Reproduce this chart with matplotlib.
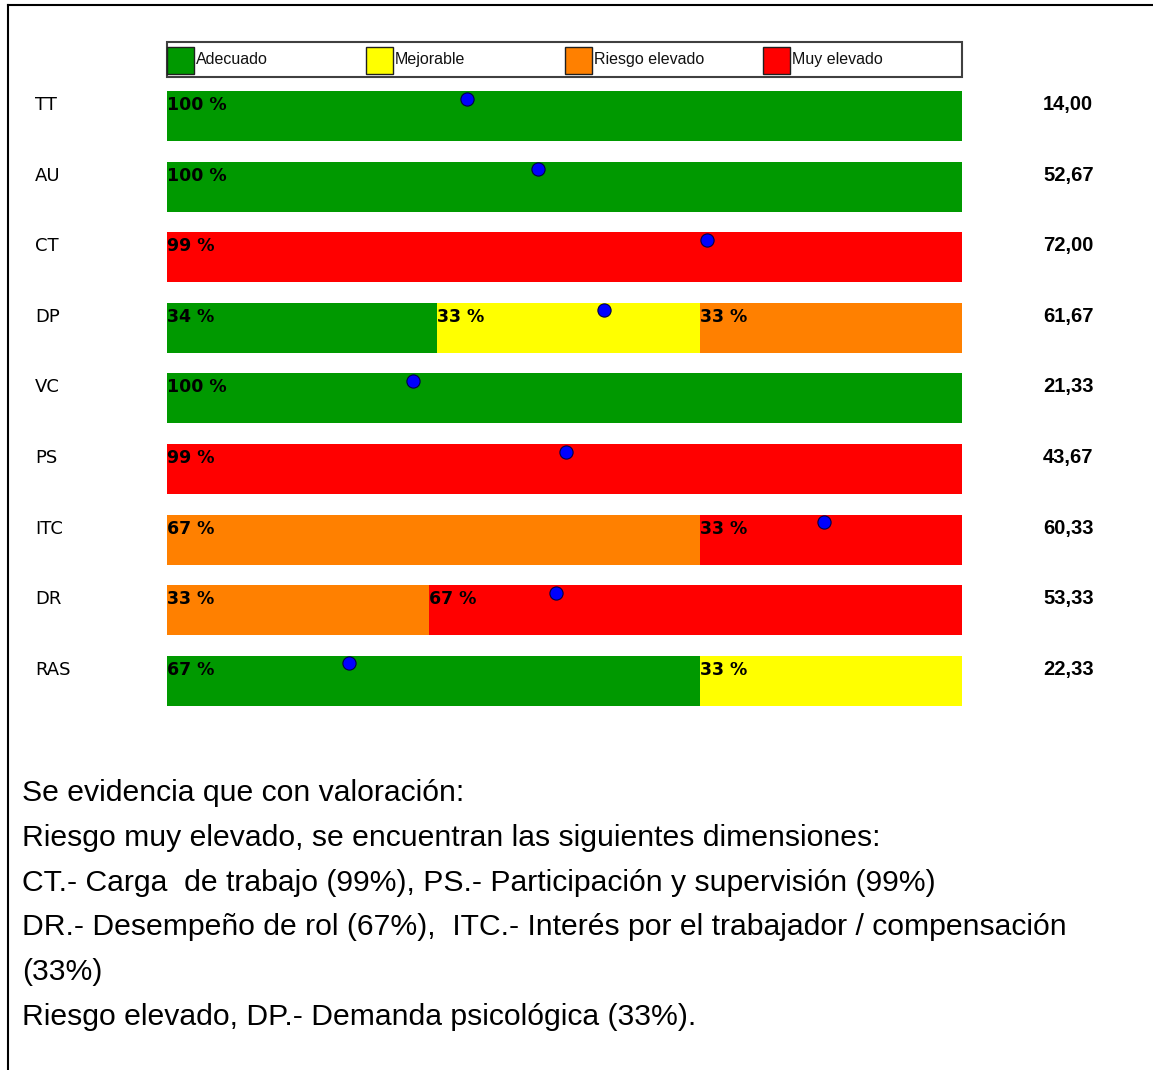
import matplotlib.pyplot as plt
from matplotlib.patches import Rectangle
from matplotlib.lines import Line2D

# Data
dimensiones = ['TT', 'AU', 'CT', 'DP', 'VC', 'PS', 'ITC', 'DR', 'RAS']
adecuado = [100, 100, 0, 34, 100, 0, 0, 0, 67]
mejorable = [0, 0, 0, 33, 0, 0, 0, 0, 33]
riesgo_elevado = [0, 0, 0, 33, 0, 0, 67, 33, 0]
muy_elevado = [0, 0, 99, 0, 0, 99, 33, 67, 0]
puntuacion = [14.00, 52.67, 72.00, 61.67, 21.33, 43.67, 60.33, 53.33, 22.33]
posicion_punto = [37.7, 46.7, 67.9, 55.0, 30.9, 50.2, 82.6, 48.9, 22.9]

categorias = ['Adecuado', 'Mejorable', 'Riesgo elevado', 'Muy elevado']
colores = ['#009900', '#ffff00', '#ff8000', '#ff0000']

texto = [
    'Se evidencia que con valoración:',
    'Riesgo muy elevado, se encuentran las siguientes dimensiones:',
    'CT.- Carga  de trabajo (99%), PS.- Participación y supervisión (99%)',
    'DR.- Desempeño de rol (67%),  ITC.- Interés por el trabajador / compensación',
    '(33%)',
    'Riesgo elevado, DP.- Demanda psicológica (33%).',
]

W, H = 1153, 1070
px_x = 7.95    # pixels per unit on x (0..100 -> 167..962 px)
px_y = 70.6    # pixels per row
x0, y0 = 167, 116

fig = plt.figure(figsize=(W / 100, H / 100), dpi=100)
ax = fig.add_axes([0, 0, 1, 1])
ax.set_xlim(-x0 / px_x, (W - x0) / px_x)
ax.set_ylim((H - y0) / px_y, -y0 / px_y)
ax.axis('off')

bar_h = 50 / px_y
series = [adecuado, mejorable, riesgo_elevado, muy_elevado]
for i, dim in enumerate(dimensiones):
    total = sum(s[i] for s in series)
    left = 0
    for s, c in zip(series, colores):
        if s[i] == 0:
            continue
        w = s[i] / total * 100
        ax.barh(i, w, left=left, height=bar_h, color=c, linewidth=0)
        ax.text(left, i - 6 / px_y, f'{s[i]} %', ha='left', va='baseline',
                fontsize=12.5, fontweight='bold', family='DejaVu Sans', color='black')
        left += w
    ax.plot(posicion_punto[i], i - 17.5 / px_y, 'o', ms=9.5, mfc='#0000ff',
            mec='#000044', mew=0.8)
    ax.text(-132 / px_x, i - 6 / px_y, dim, ha='left', va='baseline',
            fontsize=13, family='DejaVu Sans', color='black')
    ax.text((1043 - x0) / px_x, i - 6 / px_y, f'{puntuacion[i]:.2f}'.replace('.', ','),
            ha='left', va='baseline', fontsize=14.5, fontweight='bold',
            family='Liberation Sans', color='black')

# legend box
ly0, ly1 = (42 - y0) / px_y, (77 - y0) / px_y
ax.add_patch(Rectangle((0, ly0), 100, ly1 - ly0, facecolor='white',
                       edgecolor='#404040', linewidth=1.5))
for k, (cat, c) in enumerate(zip(categorias, colores)):
    sx = k * 25
    ax.add_patch(Rectangle((sx, (47 - y0) / px_y), 27 / px_x, 27 / px_y,
                           facecolor=c, edgecolor='#202020', linewidth=1))
    ax.text(sx + 29 / px_x, (63.5 - y0) / px_y, cat, ha='left', va='baseline',
            fontsize=11.5, family='Liberation Sans', color='#111111')

# frame lines
fig.add_artist(Line2D([8 / W, 1 - 1 / W], [1 - 5 / H, 1 - 5 / H], color='black', lw=1.5))
fig.add_artist(Line2D([8 / W, 8 / W], [0, 1 - 5 / H], color='black', lw=1.5))

# comment text
for j, linea in enumerate(texto):
    yb = 801 + j * 44.8
    fig.text(22 / W, 1 - yb / H, linea, ha='left', va='baseline',
             fontsize=21.7, family='Liberation Sans', color='black')

fig.savefig('out.png', dpi=100)
